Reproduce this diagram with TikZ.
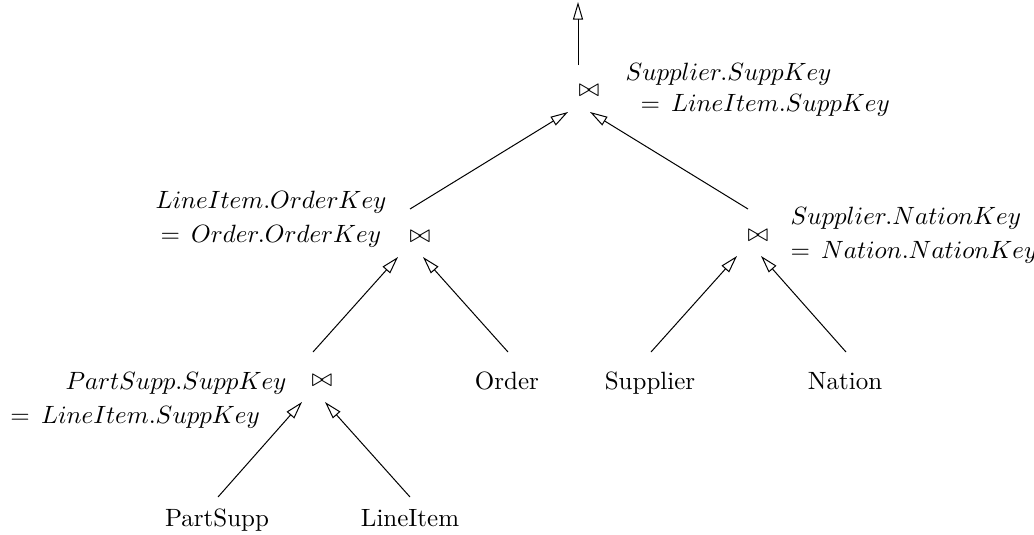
\documentclass[tikz,border=0pt]{standalone}
\usetikzlibrary{arrows.meta}
\begin{document}
\begin{tikzpicture}[x=0.4pt,y=-0.4pt, line width=0.4pt,
  edge/.style={-{Triangle[open,length=7pt,width=4pt]}},
  lbl/.style={anchor=base west, inner sep=0pt},
  leaf/.style={anchor=base, inner sep=0pt},
  joinop/.style={inner sep=0pt}]
\useasboundingbox (0,0) rectangle (1034,534);
% join operators
\node[joinop] (jT) at (589,91) {$\bowtie$};
\node[joinop] (jL) at (420,237) {$\bowtie$};
\node[joinop] (jR) at (758,236) {$\bowtie$};
\node[joinop] (jB) at (322,381) {$\bowtie$};
% leaves
\node[leaf] (order) at (507,389.5) {Order};
\node[leaf] (supplier) at (650,389.5) {Supplier};
\node[leaf] (nation) at (845,389.5) {Nation};
\node[leaf] (partsupp) at (217,526.5) {PartSupp};
\node[leaf] (lineitem) at (410,526.5) {LineItem};
% predicates
\node[lbl] (pT1) at (625,80) {$Supplier.SuppKey$};
\node[lbl] (pT2) at (640,111) {$=\,LineItem.SuppKey$};
\node[lbl] (pL1) at (155,208) {$LineItem.OrderKey$};
\node[lbl] (pL2) at (160,242) {$=\,Order.OrderKey$};
\node[lbl] (pR1) at (790,224) {$Supplier.NationKey$};
\node[lbl] (pR2) at (790,258) {$=\,Nation.NationKey$};
\node[lbl] (pB1) at (65,389) {$PartSupp.SuppKey$};
\node[lbl] (pB2) at (10,423) {$=\,LineItem.SuppKey$};
% edge end coordinates
\coordinate (out0) at (578,65);
\coordinate (out1) at (578,2);
\coordinate (tl0) at (410,209);
\coordinate (tl1) at (568,112);
\coordinate (tr0) at (748,209);
\coordinate (tr1) at (590,112);
\coordinate (ll0) at (313,352);
\coordinate (ll1) at (398,257);
\coordinate (lr0) at (508,352);
\coordinate (lr1) at (423,257);
\coordinate (rl0) at (651,352);
\coordinate (rl1) at (737,256);
\coordinate (rr0) at (846,352);
\coordinate (rr1) at (761,256);
\coordinate (bl0) at (218,497);
\coordinate (bl1) at (302,402);
\coordinate (br0) at (410,497);
\coordinate (br1) at (325,402);
% edges
\draw[edge] (out0) -- (out1);
\draw[edge] (tl0) -- (tl1);
\draw[edge] (tr0) -- (tr1);
\draw[edge] (ll0) -- (ll1);
\draw[edge] (lr0) -- (lr1);
\draw[edge] (rl0) -- (rl1);
\draw[edge] (rr0) -- (rr1);
\draw[edge] (bl0) -- (bl1);
\draw[edge] (br0) -- (br1);
\end{tikzpicture}
\end{document}
